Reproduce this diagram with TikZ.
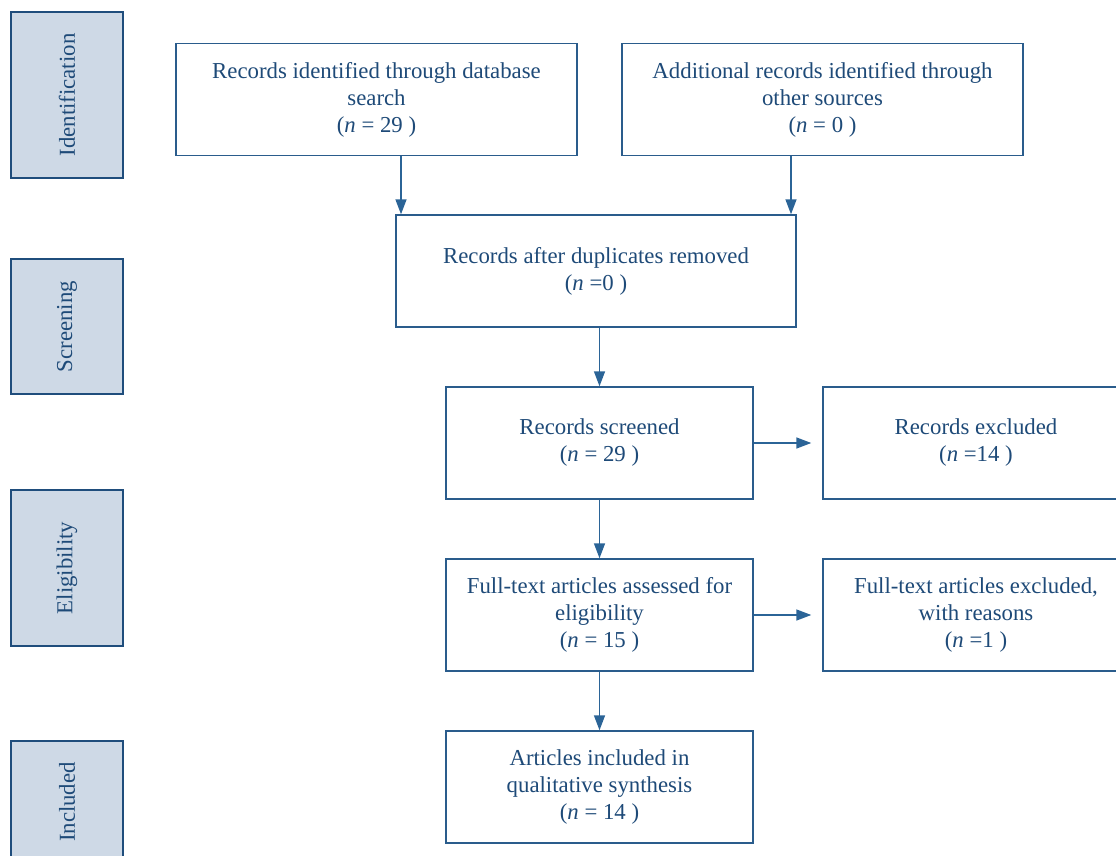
\documentclass[tikz,border=0pt]{standalone}
\usepackage{fontspec}
\setmainfont{Liberation Serif}
\usetikzlibrary{positioning, arrows.meta}
\usepackage{xcolor}
\definecolor{prismaText}{HTML}{1E4A78}
\definecolor{prismaLine}{HTML}{2A5C8C}
\definecolor{prismaArrow}{HTML}{2B6497}
\definecolor{prismaFill}{HTML}{CED9E6}
\definecolor{prismaDark}{HTML}{1F4D7C}

\begin{document}
\begin{tikzpicture}[
    x=1pt, y=-1pt,
    >={Triangle[length=15pt,width=11pt]},
    every node/.style={font=\fontsize{22.8}{27}\selectfont, text=prismaText},
    box/.style={draw=prismaLine, line width=1.4pt, fill=white, align=center, inner sep=0pt, minimum height=112pt},
    wide/.style={box, minimum width=401pt},
    narrow/.style={box, minimum width=307pt},
    phase/.style={draw=prismaDark, line width=1.4pt, fill=prismaFill, rotate=90, inner sep=0pt, minimum height=112pt},
    arr/.style={->, draw=prismaArrow, line width=1.5pt}
]
    \useasboundingbox (0,0) rectangle (1116,856);

    % Phases (left column)
    \node[phase, minimum width=166pt] (ident) at (67,95) {Identification};
    \node[phase, minimum width=135pt] (screen) at (67,326.5) {Screening};
    \node[phase, minimum width=156pt] (elig) at (67,568) {Eligibility};
    \node[phase, minimum width=122pt] (incl) at (67,802) {Included};

    % Identification
    \node[wide] (dbsearch) at (376.5,99.5) {Records identified through database\\search\\(\textit{n} = 29 )};
    \node[wide] (othersrc) at (822.5,99.5) {Additional records identified through\\other sources\\(\textit{n} = 0 )};

    % Screening
    \node[wide, minimum width=400pt] (dedup) at (596,271) {Records after duplicates removed\\(\textit{n} =0 )};
    \node[narrow] (screened) at (599.5,443) {Records screened\\(\textit{n} = 29 )};
    \node[narrow, minimum width=306pt] (excluded) at (976,443) {Records excluded\\(\textit{n} =14 )};

    % Eligibility
    \node[narrow] (fulltext) at (599.5,615) {Full-text articles assessed for\\eligibility\\(\textit{n} = 15 )};
    \node[narrow, minimum width=306pt] (ftexcl) at (976,615) {Full-text articles excluded,\\with reasons\\(\textit{n} =1 )};

    % Included
    \node[narrow] (synth) at (599.5,787) {Articles included in\\qualitative synthesis\\(\textit{n} = 14 )};

    % Connectors
    \draw[arr] ([xshift=24.5pt]dbsearch.south) -- ([xshift=24.5pt]dbsearch.south |- dedup.north);
    \draw[arr] ([xshift=-31.5pt]othersrc.south) -- ([xshift=-31.5pt]othersrc.south |- dedup.north);
    \draw[arr] (dedup.south -| screened.north) -- (screened.north);
    \draw[arr, shorten >=11pt] (screened) -- (excluded);
    \draw[arr] (screened) -- (fulltext);
    \draw[arr, shorten >=11pt] (fulltext) -- (ftexcl);
    \draw[arr] (fulltext) -- (synth);
\end{tikzpicture}
\end{document}
